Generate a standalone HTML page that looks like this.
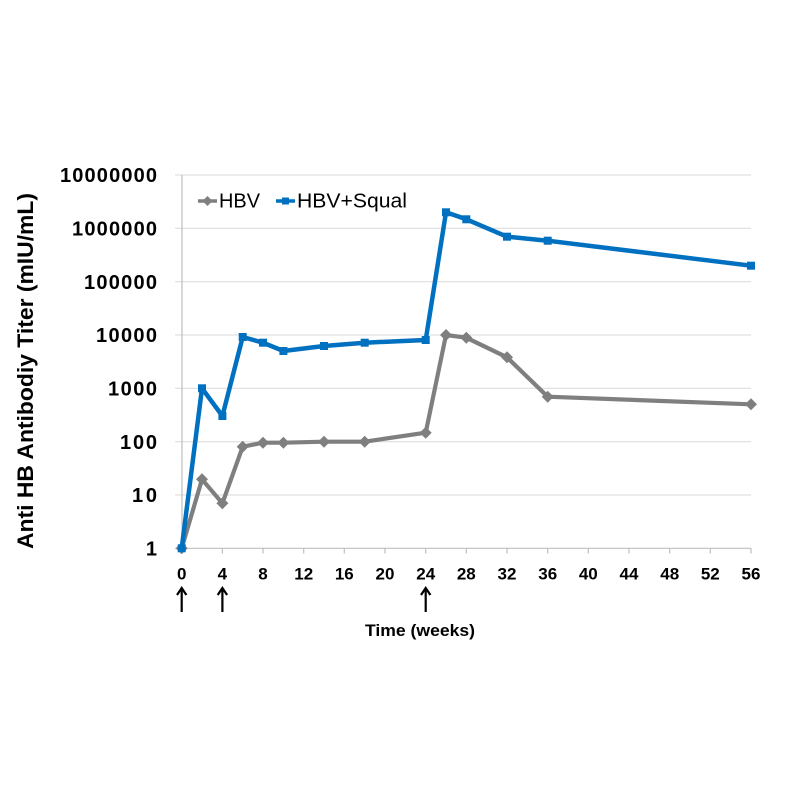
<!DOCTYPE html>
<html><head><meta charset="utf-8"><style>
html,body{margin:0;padding:0;background:#fff;}
svg{display:block;}
text{font-family:"Liberation Sans",Arial,sans-serif;}
</style></head><body>
<svg width="800" height="800" viewBox="0 0 800 800" xmlns="http://www.w3.org/2000/svg">
<rect width="800" height="800" fill="#fff"/>
<!-- gridlines -->
<g stroke="#d9d9d9" stroke-width="1">
<line x1="175" y1="175" x2="751" y2="175"/>
<line x1="175" y1="228.3" x2="751" y2="228.3"/>
<line x1="175" y1="281.7" x2="751" y2="281.7"/>
<line x1="175" y1="335" x2="751" y2="335"/>
<line x1="175" y1="388.3" x2="751" y2="388.3"/>
<line x1="175" y1="441.7" x2="751" y2="441.7"/>
<line x1="175" y1="495" x2="751" y2="495"/>
</g>
<g stroke="#bfbfbf" stroke-width="1.2">
<line x1="182" y1="175" x2="182" y2="548.3"/>
<line x1="175" y1="548.3" x2="751" y2="548.3"/>
<line x1="181.7" y1="548.3" x2="181.7" y2="553.5"/>
<line x1="222.4" y1="548.3" x2="222.4" y2="553.5"/>
<line x1="263.0" y1="548.3" x2="263.0" y2="553.5"/>
<line x1="303.7" y1="548.3" x2="303.7" y2="553.5"/>
<line x1="344.3" y1="548.3" x2="344.3" y2="553.5"/>
<line x1="385.0" y1="548.3" x2="385.0" y2="553.5"/>
<line x1="425.7" y1="548.3" x2="425.7" y2="553.5"/>
<line x1="466.3" y1="548.3" x2="466.3" y2="553.5"/>
<line x1="507.0" y1="548.3" x2="507.0" y2="553.5"/>
<line x1="547.7" y1="548.3" x2="547.7" y2="553.5"/>
<line x1="588.3" y1="548.3" x2="588.3" y2="553.5"/>
<line x1="629.0" y1="548.3" x2="629.0" y2="553.5"/>
<line x1="669.7" y1="548.3" x2="669.7" y2="553.5"/>
<line x1="710.3" y1="548.3" x2="710.3" y2="553.5"/>
<line x1="751.0" y1="548.3" x2="751.0" y2="553.5"/>
</g>
<!-- y labels -->
<g font-size="20" font-weight="bold" fill="#000" text-anchor="end">
<text x="157" y="182.2" textLength="97" lengthAdjust="spacing">10000000</text>
<text x="157" y="235.5" textLength="85" lengthAdjust="spacing">1000000</text>
<text x="157" y="288.9" textLength="73" lengthAdjust="spacing">100000</text>
<text x="157" y="342.2" textLength="61" lengthAdjust="spacing">10000</text>
<text x="157" y="395.5" textLength="49" lengthAdjust="spacing">1000</text>
<text x="157" y="448.9" textLength="37" lengthAdjust="spacing">100</text>
<text x="157" y="502.2" textLength="25" lengthAdjust="spacing">10</text>
<text x="157" y="555.5">1</text>
</g>
<!-- x labels -->
<g font-size="17" font-weight="bold" fill="#000" text-anchor="middle">
<text x="181.7" y="579.3">0</text>
<text x="222.4" y="579.3">4</text>
<text x="263.0" y="579.3">8</text>
<text x="303.7" y="579.3">12</text>
<text x="344.3" y="579.3">16</text>
<text x="385.0" y="579.3">20</text>
<text x="425.7" y="579.3">24</text>
<text x="466.3" y="579.3">28</text>
<text x="507.0" y="579.3">32</text>
<text x="547.7" y="579.3">36</text>
<text x="588.3" y="579.3">40</text>
<text x="629.0" y="579.3">44</text>
<text x="669.7" y="579.3">48</text>
<text x="710.3" y="579.3">52</text>
<text x="751.0" y="579.3">56</text>
</g>
<text x="420" y="636" font-size="17" font-weight="bold" text-anchor="middle" textLength="110" lengthAdjust="spacingAndGlyphs">Time (weeks)</text>
<text transform="translate(33,371) rotate(-90)" font-size="22" font-weight="bold" text-anchor="middle" textLength="356" lengthAdjust="spacingAndGlyphs">Anti HB Antibodiy Titer  (mIU/mL)</text>
<!-- arrows -->
<g stroke="#000" stroke-width="2.2" fill="none">
<line x1="181.7" y1="612" x2="181.7" y2="590"/>
<line x1="222.4" y1="612" x2="222.4" y2="590"/>
<line x1="425.7" y1="612" x2="425.7" y2="590"/>
<polyline points="177,595 181.7,588 186.4,595"/>
<polyline points="217.7,595 222.4,588 227.1,595"/>
<polyline points="421,595 425.7,588 430.4,595"/>
</g>
<!-- gray series -->
<polyline fill="none" stroke="#7f7f7f" stroke-width="4.2" stroke-linejoin="round" points="181.7,548.3 202.0,479.3 222.4,503.3 242.7,446.7 263.0,442.7 283.4,442.7 324.0,441.7 364.7,441.7 425.7,432.7 446.0,335 466.3,337.7 507.0,357.3 547.7,396.7 751,404.3"/>
<g fill="#7f7f7f">
<path d="M181.7,542.3 l6,6 l-6,6 l-6,-6z"/>
<path d="M202.0,473.3 l6,6 l-6,6 l-6,-6z"/>
<path d="M222.4,497.3 l6,6 l-6,6 l-6,-6z"/>
<path d="M242.7,440.7 l6,6 l-6,6 l-6,-6z"/>
<path d="M263.0,436.7 l6,6 l-6,6 l-6,-6z"/>
<path d="M283.4,436.7 l6,6 l-6,6 l-6,-6z"/>
<path d="M324.0,435.7 l6,6 l-6,6 l-6,-6z"/>
<path d="M364.7,435.7 l6,6 l-6,6 l-6,-6z"/>
<path d="M425.7,426.7 l6,6 l-6,6 l-6,-6z"/>
<path d="M446.0,329 l6,6 l-6,6 l-6,-6z"/>
<path d="M466.3,331.7 l6,6 l-6,6 l-6,-6z"/>
<path d="M507.0,351.3 l6,6 l-6,6 l-6,-6z"/>
<path d="M547.7,390.7 l6,6 l-6,6 l-6,-6z"/>
<path d="M751,398.3 l6,6 l-6,6 l-6,-6z"/>
</g>
<!-- blue series -->
<polyline fill="none" stroke="#0070c0" stroke-width="4.5" stroke-linejoin="round" points="181.7,548.3 202.0,388.3 222.4,416 242.7,337 263.0,342.7 283.4,351 324.0,346 364.7,342.7 425.7,340 446.0,212.3 466.3,219.3 507.0,236.7 547.7,240.7 751,265.7"/>
<g fill="#0070c0">
<rect x="177.7" y="544.3" width="8" height="8"/>
<rect x="198.0" y="384.3" width="8" height="8"/>
<rect x="218.4" y="412" width="8" height="8"/>
<rect x="238.7" y="333" width="8" height="8"/>
<rect x="259.0" y="338.7" width="8" height="8"/>
<rect x="279.4" y="347" width="8" height="8"/>
<rect x="320.0" y="342" width="8" height="8"/>
<rect x="360.7" y="338.7" width="8" height="8"/>
<rect x="421.7" y="336" width="8" height="8"/>
<rect x="442.0" y="208.3" width="8" height="8"/>
<rect x="462.3" y="215.3" width="8" height="8"/>
<rect x="503.0" y="232.7" width="8" height="8"/>
<rect x="543.7" y="236.7" width="8" height="8"/>
<rect x="747" y="261.7" width="8" height="8"/>
</g>
<!-- legend -->
<line x1="198" y1="201" x2="217" y2="201" stroke="#7f7f7f" stroke-width="3.5"/>
<path d="M207.5,196 l5,5 l-5,5 l-5,-5z" fill="#7f7f7f"/>
<text x="219" y="207.7" font-size="20" fill="#000" textLength="41" lengthAdjust="spacingAndGlyphs">HBV</text>
<line x1="276" y1="201" x2="295" y2="201" stroke="#0070c0" stroke-width="3.5"/>
<rect x="282" y="197.5" width="7" height="7" fill="#0070c0"/>
<text x="297" y="207.7" font-size="20" fill="#000" textLength="110" lengthAdjust="spacingAndGlyphs">HBV+Squal</text>
</svg>
</body></html>
